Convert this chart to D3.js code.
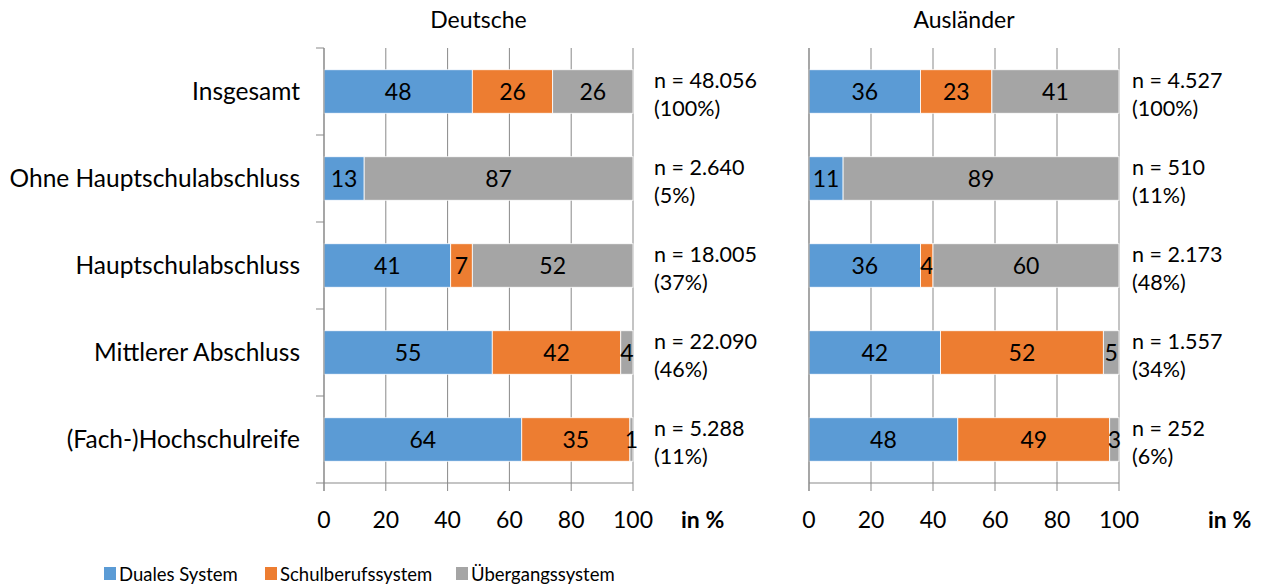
<!DOCTYPE html>
<html>
<head>
<meta charset="utf-8">
<script src="https://cdnjs.cloudflare.com/ajax/libs/d3/7.8.5/d3.min.js"></script>
<style>
  body { margin: 0; background: #fff; }
  svg { font-family: Lato, "Open Sans", sans-serif; }
</style>
</head>
<body>
<svg id="chart" width="1264" height="587"></svg>
<script>
// categories (top to bottom)
const categories = ['Insgesamt', 'Ohne Hauptschulabschluss', 'Hauptschulabschluss', 'Mittlerer Abschluss', '(Fach-)Hochschulreife'];
const seriesNames = ['Duales System', 'Schulberufssystem', 'Übergangssystem'];
const colors = ['#5b9bd5', '#ed7d31', '#a5a5a5'];

// percentages per category: [Duales, Schulberuf, Übergang]
const deutsche = [[48, 26, 26], [13, 0, 87], [41, 7, 52], [55, 42, 4], [64, 35, 1]];
const auslaender = [[36, 23, 41], [11, 0, 89], [36, 4, 60], [42, 52, 5], [48, 49, 3]];

// n labels
const nDeutsche = ['n = 48.056', 'n = 2.640', 'n = 18.005', 'n = 22.090', 'n = 5.288'];
const pDeutsche = ['(100%)', '(5%)', '(37%)', '(46%)', '(11%)'];
const nAuslaender = ['n = 4.527', 'n = 510', 'n = 2.173', 'n = 1.557', 'n = 252'];
const pAuslaender = ['(100%)', '(11%)', '(48%)', '(34%)', '(6%)'];

const xTicks = [0, 20, 40, 60, 80, 100];

const svg = d3.select('#chart');
const axisColor = '#898989';
const plotTop = 48, plotBottom = 483;

const y = d3.scaleBand()
  .domain(categories)
  .range([plotTop, plotBottom])
  .paddingInner(0.5)
  .paddingOuter(0.25);

const panels = [
  {title: 'Deutsche', data: deutsche, n: nDeutsche, p: pDeutsche, x0: 324, x1: 633, nX: 654, unitX: 681, labels: true},
  {title: 'Ausländer', data: auslaender, n: nAuslaender, p: pAuslaender, x0: 809, x1: 1119, nX: 1132, unitX: 1208, labels: false}
];

const stack = d3.stack()
  .keys([0, 1, 2])
  .offset(d3.stackOffsetExpand);

panels.forEach(panel => {
  const g = svg.append('g');
  const x = d3.scaleLinear().domain([0, 1]).range([panel.x0, panel.x1]);

  // gridlines
  g.selectAll('.grid')
    .data(xTicks)
    .join('line')
      .attr('x1', d => x(d / 100))
      .attr('x2', d => x(d / 100))
      .attr('y1', plotTop)
      .attr('y2', plotBottom + 8)
      .attr('stroke', axisColor)
      .attr('stroke-width', 1);

  // bottom axis line
  g.append('line')
    .attr('x1', panel.x0).attr('x2', panel.x1)
    .attr('y1', plotBottom).attr('y2', plotBottom)
    .attr('stroke', axisColor);

  // left axis with category boundary ticks
  if (panel.labels) {
    const bounds = d3.range(categories.length + 1).map(i => plotTop + i * y.step());
    g.selectAll('.ytick')
      .data(bounds)
      .join('line')
        .attr('x1', panel.x0 - 8)
        .attr('x2', panel.x0)
        .attr('y1', d => d)
        .attr('y2', d => d)
        .attr('stroke', axisColor);
  }

  // tick labels
  g.selectAll('.xlabel')
    .data(xTicks)
    .join('text')
      .attr('x', d => x(d / 100))
      .attr('y', 528)
      .attr('text-anchor', 'middle')
      .attr('font-size', 23)
      .attr('fill', '#000')
      .text(d => d);

  g.append('text')
    .attr('x', panel.unitX)
    .attr('y', 528)
    .attr('font-size', 23)
    .attr('font-weight', 'bold')
    .attr('fill', '#000')
    .text('in %');

  // stacked bars
  const rows = panel.data.map((v, i) => Object.assign({cat: categories[i]}, v));
  const layers = stack(rows);

  layers.forEach((layer, k) => {
    g.selectAll('.bar' + k)
      .data(layer)
      .join('rect')
        .attr('x', d => x(d[0]))
        .attr('y', d => y(d.data.cat))
        .attr('width', d => Math.max(0, x(d[1]) - x(d[0])))
        .attr('height', y.bandwidth())
        .attr('fill', colors[k])
        .attr('stroke', '#fff')
        .attr('stroke-width', 0.8);

    g.selectAll('.val' + k)
      .data(layer.filter(d => d.data[k] > 0))
      .join('text')
        .attr('x', d => (x(d[0]) + x(d[1])) / 2)
        .attr('y', d => y(d.data.cat) + y.bandwidth() / 2)
        .attr('dy', '0.36em')
        .attr('text-anchor', 'middle')
        .attr('font-size', 23)
        .attr('fill', '#000')
        .text(d => d.data[k]);
  });

  // axis line on the left (above bars)
  g.append('line')
    .attr('x1', panel.x0).attr('x2', panel.x0)
    .attr('y1', plotTop).attr('y2', plotBottom + 8)
    .attr('stroke', axisColor);

  // category labels
  if (panel.labels) {
    g.selectAll('.cat')
      .data(categories)
      .join('text')
        .attr('x', 300)
        .attr('y', d => y(d) + y.bandwidth() / 2)
        .attr('dy', '0.36em')
        .attr('text-anchor', 'end')
        .attr('font-size', 24.5)
        .attr('fill', '#000')
        .text(d => d);
  }

  // n labels
  categories.forEach((c, i) => {
    const cy = y(c) + y.bandwidth() / 2;
    g.append('text')
      .attr('x', panel.nX).attr('y', cy - 4)
      .attr('font-size', 21.5).attr('fill', '#000')
      .text(panel.n[i]);
    g.append('text')
      .attr('x', panel.nX).attr('y', cy + 24)
      .attr('font-size', 21.5).attr('fill', '#000')
      .text(panel.p[i]);
  });

  // title
  g.append('text')
    .attr('x', (panel.x0 + panel.x1) / 2)
    .attr('y', 28)
    .attr('text-anchor', 'middle')
    .attr('font-size', 23)
    .attr('fill', '#000')
    .text(panel.title);
});

// legend
const legendX = [104, 265, 456];
const legend = svg.append('g');
seriesNames.forEach((s, i) => {
  legend.append('rect')
    .attr('x', legendX[i]).attr('y', 567)
    .attr('width', 12).attr('height', 13)
    .attr('fill', colors[i]);
  legend.append('text')
    .attr('x', legendX[i] + 15).attr('y', 581)
    .attr('font-size', 18.5).attr('fill', '#000')
    .text(s);
});
</script>
</body>
</html>
